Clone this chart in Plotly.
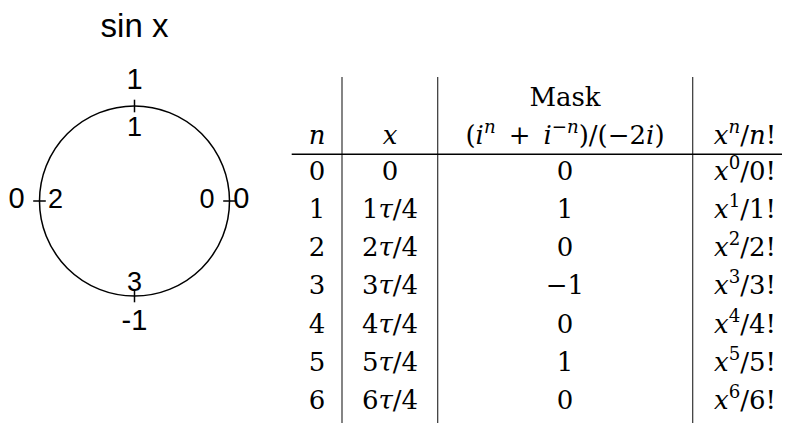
import plotly.graph_objects as go

# circle (polar) data
angles = [0, 90, 180, 270]
sin_labels = ["0", "1", "0", "-1"]
n_labels = ["0", "1", "2", "3"]

# table data
n_col = ["0", "1", "2", "3", "4", "5", "6"]
x_col = ["0", "1<i>τ</i>/4", "2<i>τ</i>/4", "3<i>τ</i>/4", "4<i>τ</i>/4", "5<i>τ</i>/4", "6<i>τ</i>/4"]
mask_col = ["0", "1", "0", "−1", "0", "1", "0"]
term_col = ["<i>x</i><sup>0</sup>/0!", "<i>x</i><sup>1</sup>/1!", "<i>x</i><sup>2</sup>/2!",
            "<i>x</i><sup>3</sup>/3!", "<i>x</i><sup>4</sup>/4!", "<i>x</i><sup>5</sup>/5!",
            "<i>x</i><sup>6</sup>/6!"]
header_top = ["", "", "Mask", ""]
header = ["<i>n</i>", "<i>x</i>",
          "(<i>i</i><sup><i>n</i></sup>\u2002+\u2002<i>i</i><sup>−<i>n</i></sup>)/(−2<i>i</i>)",
          "<i>x</i><sup><i>n</i></sup>/<i>n</i>!"]

W, H = 790, 423
OFF = 8  # page body margin
sans = "Liberation Sans, Arial, sans-serif"
serif = "DejaVu Serif, serif"

# circle geometry in screen px (style)
cx0, cy0, rad = 134.5, 201, 95
outer_span = 1.3
# label placement radii (style)
outer_r = [1.125, 1.253, 1.242, 1.284]
inner_r = [0.763, 0.758, 0.832, 0.875]

# table layout (screen pixel units on a hidden axis)
col_x = [317, 390, 565, 745]
vlines = [342, 437.7, 692.7]
row0_y, row_step = 173, 38.3
head_y, head_top_y = 137, 99


def dom(radius):
    return dict(x=[(cx0 - radius - OFF) / W, (cx0 + radius - OFF) / W],
                y=[1 - (cy0 + radius - OFF) / H, 1 - (cy0 - radius - OFF) / H])


fig = go.Figure()

# --- circle ---
fig.add_trace(go.Scatterpolar(
    r=[1] * len(angles), theta=angles, mode="markers",
    marker=dict(symbol=["line-ew-open", "line-ns-open", "line-ew-open", "line-ns-open"],
                size=9, line=dict(width=1.5, color="black"), color="black"),
    hoverinfo="skip", showlegend=False))
fig.add_trace(go.Scatterpolar(
    r=inner_r, theta=angles, mode="text", text=n_labels,
    textfont=dict(family=sans, size=27, color="black"),
    cliponaxis=False, hoverinfo="skip", showlegend=False))
fig.add_trace(go.Scatterpolar(
    r=outer_r, theta=angles, mode="text", text=sin_labels, subplot="polar2",
    textfont=dict(family=sans, size=29, color="black"),
    cliponaxis=False, hoverinfo="skip", showlegend=False))

# --- table ---
rows_y = [row0_y + row_step * i for i in range(len(n_col))]
tfont = dict(family=serif, size=26, color="black")
for cx, col in zip(col_x, [n_col, x_col, mask_col, term_col]):
    fig.add_trace(go.Scatter(
        x=[cx] * len(col), y=rows_y, mode="text", text=col, textfont=tfont,
        cliponaxis=False, hoverinfo="skip", showlegend=False))
fig.add_trace(go.Scatter(
    x=col_x, y=[head_y] * 4, mode="text", text=header, textfont=tfont,
    cliponaxis=False, hoverinfo="skip", showlegend=False))
fig.add_trace(go.Scatter(
    x=col_x, y=[head_top_y] * 4, mode="text", text=header_top, textfont=tfont,
    cliponaxis=False, hoverinfo="skip", showlegend=False))

for vx in vlines:
    fig.add_shape(type="line", x0=vx, x1=vx, y0=77, y1=H + OFF, xref="x", yref="y",
                  line=dict(color="#333", width=1.2))
fig.add_shape(type="line", x0=291.7, x1=W + OFF, y0=154.3, y1=154.3, xref="x", yref="y",
              line=dict(color="black", width=1.5))

hidden_ang = dict(showline=False, showticklabels=False, showgrid=False, ticks="",
                  direction="counterclockwise", rotation=0)

fig.update_layout(
    width=W, height=H,
    margin=dict(l=0, r=0, t=0, b=0),
    paper_bgcolor="white", plot_bgcolor="rgba(0,0,0,0)",
    title=dict(text="sin x", x=(134.5 - OFF) / W, xanchor="center",
               y=1 - (25 - OFF) / H, yanchor="middle", yref="container",
               font=dict(family=sans, size=33, color="black")),
    xaxis=dict(range=[OFF, W + OFF], visible=False, domain=[0, 1], fixedrange=True),
    yaxis=dict(range=[H + OFF, OFF], visible=False, domain=[0, 1], fixedrange=True),
    polar=dict(
        domain=dom(rad),
        bgcolor="rgba(0,0,0,0)",
        radialaxis=dict(visible=False, range=[0, 1]),
        angularaxis=dict(tickvals=angles, showticklabels=False,
                         direction="counterclockwise", rotation=0,
                         showgrid=False, ticks="", showline=True,
                         linecolor="black", linewidth=1.5),
    ),
    polar2=dict(
        domain=dom(rad * outer_span),
        bgcolor="rgba(0,0,0,0)",
        radialaxis=dict(visible=False, range=[0, outer_span]),
        angularaxis=hidden_ang,
    ),
)

fig.write_html("out.html")
